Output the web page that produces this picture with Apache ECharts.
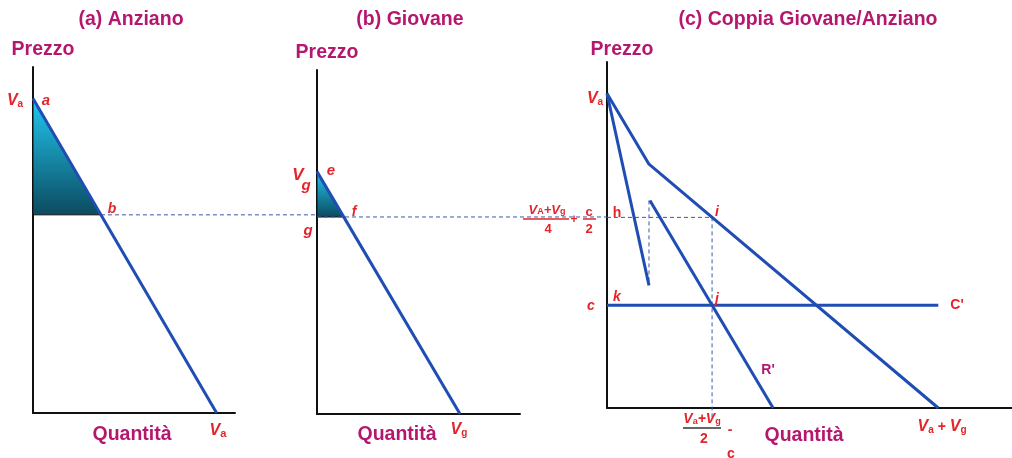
<!DOCTYPE html>
<html>
<head>
<meta charset="utf-8">
<script src="https://cdn.jsdelivr.net/npm/echarts@6/dist/echarts.min.js"></script>
<style>
  html, body { margin: 0; padding: 0; background: #fff; }
  #chart { width: 1012px; height: 458px; }
</style>
</head>
<body>
<div id="chart"></div>
<script>
// prices / quantities (same units on every panel)
var Va = 10, Vg = 7.75;

// (a) Anziano
var demandA = [[0, 10], [10, 0]];
var surplusA = [[0, 10, 0, 6.3, 3.7, 6.3]];
var dashA = [[3.7, 6.3, 15.5, 6.3]];          // b -> towards panel (b)

// (b) Giovane
var demandB = [[0, 7.75], [7.75, 0]];
var surplusB = [[0, 7.75, 0, 6.3, 1.45, 6.3]];
var dashB = [[0, 6.3, 15.7, 6.3]];            // g -> towards panel (c)

// (c) Coppia Giovane/Anziano
var demandC = [[0, 10], [2.25, 7.75], [17.75, 0]];
var mrUpper = [[0, 10], [2.25, 3.9]];
var mrLower = [[2.3, 6.6], [8.9, 0]];
var costC = [[0, 3.27], [17.75, 3.27]];
var dashC = [
    [0, 6.06, 5.63, 6.06],     // h -> i
    [5.63, 6.06, 5.63, -0.3],  // i -> quantity axis
    [2.25, 6.6, 2.25, 3.9]     // gap in marginal revenue
];

var myChart = echarts.init(document.getElementById('chart'), null, { renderer: 'canvas' });

var BLUE = '#1f4db3';
var RED = '#e3242b';
var MAG = '#b5176e';
var FONT = 'Liberation Sans';

function axis(max) {
    return {
        type: 'value', min: 0, max: max,
        axisLine: { show: true, lineStyle: { color: '#111', width: 2 } },
        axisTick: { show: false }, axisLabel: { show: false }, splitLine: { show: false }
    };
}

function line(idx, data) {
    return {
        type: 'line', xAxisIndex: idx, yAxisIndex: idx, data: data,
        symbol: 'none', silent: true, animation: false,
        lineStyle: { color: BLUE, width: 3 }
    };
}

// dashed guide segments, not clipped so they can run between panels
function dashSeg(params, api) {
    var p0 = api.coord([api.value(0), api.value(1)]);
    var p1 = api.coord([api.value(2), api.value(3)]);
    return {
        type: 'line',
        shape: { x1: p0[0], y1: p0[1], x2: p1[0], y2: p1[1] },
        style: { stroke: '#3a5aa8', lineWidth: 1, lineDash: [4, 3] }
    };
}

function dashed(idx, data) {
    return {
        type: 'custom', xAxisIndex: idx, yAxisIndex: idx, data: data,
        renderItem: dashSeg, clip: false, silent: true, animation: false
    };
}

function triangle(params, api) {
    var pts = [];
    for (var i = 0; i < 3; i++) {
        pts.push(api.coord([api.value(i * 2), api.value(i * 2 + 1)]));
    }
    return {
        type: 'polygon',
        shape: { points: pts },
        style: {
            fill: new echarts.graphic.LinearGradient(0, 0, 0, 1, [
                { offset: 0, color: '#22c8f2' },
                { offset: 1, color: '#0b4a5e' }
            ]),
            stroke: '#111', lineWidth: 1
        }
    };
}

function surplus(idx, data) {
    return {
        type: 'custom', xAxisIndex: idx, yAxisIndex: idx, data: data,
        renderItem: triangle, silent: true, animation: false
    };
}

function txt(x, y, text, opt) {
    opt = opt || {};
    return {
        type: 'text', x: x, y: y, z: 10,
        style: {
            text: text,
            fill: opt.color || RED,
            font: (opt.italic === false ? '' : 'italic ') + 'bold ' + (opt.size || 15) + 'px "' + FONT + '"',
            textAlign: opt.align || 'center',
            textVerticalAlign: 'middle',
            rich: opt.rich
        }
    };
}

function head(x, y, text) {
    return txt(x, y, text, { color: MAG, italic: false, size: 19.5 });
}

var sub = {
    V: { fontStyle: 'italic', fontWeight: 'bold', fontSize: 16, fontFamily: FONT, color: RED },
    s: { fontWeight: 'bold', fontSize: 10, fontFamily: FONT, color: '#333', padding: [6, 0, 0, 0] },
    r: { fontWeight: 'bold', fontSize: 11, fontFamily: FONT, color: RED, padding: [6, 0, 0, 0] },
    p: { fontWeight: 'bold', fontSize: 14, fontFamily: FONT, color: RED }
};

var option = {
    backgroundColor: '#fff',
    animation: false,
    grid: [
        { left: 33, top: 67, width: 202, height: 346 },
        { left: 317, top: 70, width: 203, height: 344 },
        { left: 607, top: 62, width: 405, height: 346 }
    ],
    xAxis: [
        Object.assign(axis(11), { gridIndex: 0 }),
        Object.assign(axis(11), { gridIndex: 1 }),
        Object.assign(axis(21.7), { gridIndex: 2 })
    ],
    yAxis: [
        Object.assign(axis(11), { gridIndex: 0 }),
        Object.assign(axis(11), { gridIndex: 1 }),
        Object.assign(axis(11), { gridIndex: 2 })
    ],
    series: [
        surplus(0, surplusA),
        dashed(0, dashA),
        line(0, demandA),
        surplus(1, surplusB),
        dashed(1, dashB),
        line(1, demandB),
        dashed(2, dashC),
        line(2, demandC),
        line(2, mrUpper),
        line(2, mrLower),
        line(2, costC)
    ],
    graphic: [
        // titles and axis names
        head(131, 20, '(a) Anziano'),
        head(410, 20, '(b) Giovane'),
        head(808, 20, '(c) Coppia Giovane/Anziano'),
        head(43, 50, 'Prezzo'),
        head(327, 53, 'Prezzo'),
        head(622, 50, 'Prezzo'),
        head(132, 435, 'Quantità'),
        head(397, 435, 'Quantità'),
        head(804, 436, 'Quantità'),
        // panel (a)
        txt(15, 101, '{V|V}{s|a}', { rich: sub }),
        txt(46, 101, 'a'),
        txt(112, 209, 'b', { size: 14 }),
        txt(218, 431, '{V|V}{r|a}', { rich: sub }),
        // panel (b)
        txt(298, 175, 'V', { size: 17 }),
        txt(306, 186, 'g', { size: 15 }),
        txt(331, 171, 'e'),
        txt(354, 212, 'f', { size: 14 }),
        txt(308, 231, 'g'),
        txt(459, 430, '{V|V}{s|g}', { rich: sub }),
        // panel (c)
        txt(595, 99, '{V|V}{s|a}', { rich: sub }),
        txt(547, 210, '{p|V}{r|A}{p|+V}{r|g}', { rich: { p: { fontStyle: 'italic', fontWeight: 'bold', fontSize: 13, fontFamily: FONT, color: RED }, r: { fontWeight: 'bold', fontSize: 9, fontFamily: FONT, color: RED, padding: [4, 0, 0, 0] } } }),
        { type: 'line', z: 10, shape: { x1: 523, y1: 219, x2: 569, y2: 219 }, style: { stroke: RED, lineWidth: 1.5 } },
        txt(548, 229, '4', { italic: false, size: 13 }),
        txt(574, 220, '+', { italic: false, size: 12 }),
        txt(589, 212, 'c', { italic: false, size: 13 }),
        { type: 'line', z: 10, shape: { x1: 583, y1: 219, x2: 596, y2: 219 }, style: { stroke: RED, lineWidth: 1.5 } },
        txt(589, 229, '2', { italic: false, size: 13 }),
        txt(617, 213, 'h', { size: 14, italic: false }),
        txt(717, 212, 'i', { size: 14 }),
        txt(591, 306, 'c', { size: 14 }),
        txt(617, 297, 'k', { size: 14 }),
        txt(717, 299, 'j', { size: 14 }),
        txt(957, 305, "C'", { italic: false, size: 14 }),
        txt(768, 370, "R'", { italic: false, size: 14, color: MAG }),
        txt(702, 419, '{p|V}{r|a}{p|+V}{r|g}', { rich: { p: { fontStyle: 'italic', fontWeight: 'bold', fontSize: 14, fontFamily: FONT, color: RED }, r: { fontWeight: 'bold', fontSize: 9, fontFamily: FONT, color: '#333', padding: [5, 0, 0, 0] } } }),
        { type: 'line', z: 10, shape: { x1: 683, y1: 428, x2: 721, y2: 428 }, style: { stroke: '#333', lineWidth: 1.5 } },
        txt(704, 439, '2', { italic: false, size: 14 }),
        txt(730, 430, '-', { italic: false, size: 14 }),
        txt(731, 454, 'c', { italic: false, size: 14 }),
        txt(942, 427, '{V|V}{s|a}{p| + }{V|V}{s|g}', { rich: sub })
    ]
};

myChart.setOption(option);
</script>
</body>
</html>
